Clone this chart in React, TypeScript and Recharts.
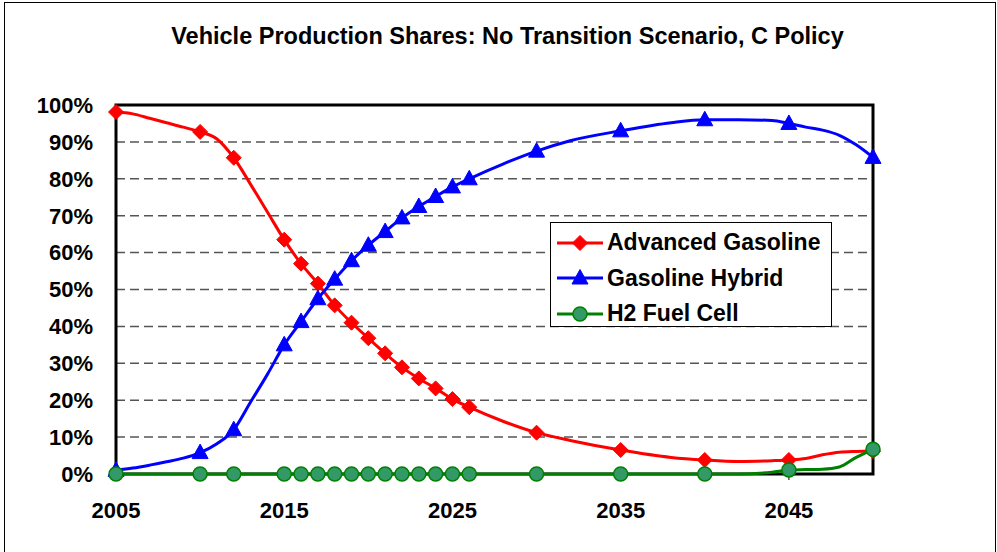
import { LineChart, Line, XAxis, YAxis, CartesianGrid, Legend, ReferenceArea } from 'recharts';

const FONT = '"Liberation Sans", Arial, sans-serif';

// years with readable points on the curves
const years = [
  2005, 2006, 2007, 2008, 2009, 2010, 2011, 2012, 2013, 2014, 2015, 2016, 2017, 2018, 2019, 2020, 2021, 2022,
  2023, 2024, 2025, 2026, 2028, 2030, 2032, 2035, 2038, 2040, 2042, 2044, 2045, 2046, 2047, 2048, 2049, 2050,
];

// years that carry a marker
const markerYears = [
  2005, 2010, 2012, 2015, 2016, 2017, 2018, 2019, 2020, 2021, 2022, 2023, 2024, 2025, 2026, 2030, 2035, 2040,
  2045, 2050,
];

const advancedGasoline = [
  98.1, 97.6, 96.4, 95.2, 94.0, 92.7, 90.8, 85.7, 78.5, 71.0, 63.5, 57.0, 51.6, 45.7, 41.0, 36.8, 32.7, 28.9,
  25.9, 23.2, 20.3, 18.1, 14.3, 11.2, 9.1, 6.5, 4.5, 3.8, 3.4, 3.6, 3.8, 4.2, 5.2, 5.9, 6.1, 6.2,
];

const gasolineHybrid = [
  1.0, 1.6, 2.4, 3.3, 4.3, 5.8, 8.2, 12.0, 19.5, 27.0, 35.0, 41.3, 47.5, 52.8, 57.8, 62.0, 65.7, 69.4, 72.5,
  75.2, 77.8, 80.0, 84.0, 87.5, 90.3, 93.0, 95.2, 96.0, 96.0, 95.8, 95.0, 94.0, 93.2, 91.8, 89.2, 85.8,
];

const h2FuelCell = [
  0, 0, 0, 0, 0, 0, 0, 0, 0, 0, 0, 0, 0, 0, 0, 0, 0, 0, 0, 0, 0, 0, 0, 0, 0, 0, 0, 0, 0, 0.5, 1.1, 1.2, 1.3,
  1.9, 4.5, 6.7,
];

const xTicks = [2005, 2015, 2025, 2035, 2045];
const yTicks = [0, 10, 20, 30, 40, 50, 60, 70, 80, 90, 100];

const seriesNames = ['Advanced Gasoline', 'Gasoline Hybrid', 'H2 Fuel Cell'];

const chartData = years.map((year, i) => ({
  year,
  advanced: advancedGasoline[i],
  hybrid: gasolineHybrid[i],
  fuelCell: h2FuelCell[i],
}));

const Diamond = ({ cx, cy }: { cx: number; cy: number }) => (
  <polygon
    points={`${cx},${cy - 7.5} ${cx + 7.5},${cy} ${cx},${cy + 7.5} ${cx - 7.5},${cy}`}
    fill="#FF0000"
    stroke="#FF0000"
    strokeWidth={1}
  />
);

const Triangle = ({ cx, cy }: { cx: number; cy: number }) => (
  <polygon
    points={`${cx},${cy - 8.5} ${cx + 8},${cy + 6} ${cx - 8},${cy + 6}`}
    fill="#0000FF"
    stroke="#0000FF"
    strokeWidth={1}
  />
);

const Circle = ({ cx, cy }: { cx: number; cy: number }) => (
  <circle cx={cx} cy={cy} r={7} fill="#339966" stroke="#008000" strokeWidth={1.5} />
);

const makeDot = (Shape: any, prefix: string) => (props: any) => {
  const { cx, cy, payload, index } = props;
  if (!markerYears.includes(payload.year)) return <g key={`${prefix}-${index}`} />;
  return (
    <g key={`${prefix}-${index}`}>
      <Shape cx={cx} cy={cy} />
    </g>
  );
};

const legendItems = [
  { name: seriesNames[0], color: '#FF0000', Shape: Diamond },
  { name: seriesNames[1], color: '#0000FF', Shape: Triangle },
  { name: seriesNames[2], color: '#008000', Shape: Circle },
];

const renderLegend = () => (
  <div
    style={{
      width: 282,
      height: 105,
      boxSizing: 'border-box',
      border: '1.5px solid #000',
      background: '#fff',
      paddingTop: 2,
    }}
  >
    {legendItems.map((item) => (
      <div key={item.name} style={{ display: 'flex', alignItems: 'center', height: 35.5 }}>
        <svg width={56} height={24} style={{ flex: 'none' }}>
          <line x1={6} y1={12} x2={52} y2={12} stroke={item.color} strokeWidth={3} />
          <item.Shape cx={29} cy={12} />
        </svg>
        <span style={{ fontFamily: FONT, fontWeight: 'bold', fontSize: 23, color: '#000' }}>{item.name}</span>
      </div>
    ))}
  </div>
);

const tickStyle = { fontFamily: FONT, fontWeight: 'bold', fontSize: 22, fill: '#000' };

export default function App() {
  return (
    <div style={{ position: 'absolute', left: 0, top: 0, width: 997, height: 552, background: '#fff', overflow: 'hidden' }}>
      <div
        style={{
          position: 'absolute',
          left: 4,
          top: 2,
          width: 990,
          height: 600,
          border: '1px solid #000',
        }}
      />
      <div
        style={{
          position: 'absolute',
          left: 0,
          top: 23,
          width: 1015,
          textAlign: 'center',
          fontFamily: FONT,
          fontWeight: 'bold',
          fontSize: 23.5,
          color: '#000',
        }}
      >
        Vehicle Production Shares: No Transition Scenario, C Policy
      </div>
      <div style={{ position: 'absolute', left: 0, top: 0 }}>
        <LineChart width={997} height={552} data={chartData} margin={{ top: 105, right: 124, bottom: 18, left: 16 }}>
          <CartesianGrid horizontal vertical={false} stroke="#555" strokeWidth={1.5} strokeDasharray="9 5" />
          <XAxis
            dataKey="year"
            type="number"
            domain={[2005, 2050]}
            ticks={xTicks}
            height={60}
            axisLine={false}
            tickSize={6}
            tickMargin={22}
            tickLine={{ stroke: '#000', strokeWidth: 1 }}
            tick={tickStyle}
          />
          <YAxis
            type="number"
            domain={[0, 100]}
            ticks={yTicks}
            width={100}
            axisLine={false}
            tickLine={false}
            tickSize={0}
            tickMargin={23}
            tick={tickStyle}
            tickFormatter={(v: number) => `${v}%`}
          />
          <ReferenceArea x1={2005} x2={2050} y1={0} y2={100} fill="none" stroke="#000" strokeWidth={3} />
          <Line
            dataKey="advanced"
            name={seriesNames[0]}
            type="monotone"
            stroke="#FF0000"
            strokeWidth={3}
            dot={makeDot(Diamond, 'adv')}
            activeDot={false}
            isAnimationActive={false}
          />
          <Line
            dataKey="hybrid"
            name={seriesNames[1]}
            type="monotone"
            stroke="#0000FF"
            strokeWidth={3}
            dot={makeDot(Triangle, 'hyb')}
            activeDot={false}
            isAnimationActive={false}
          />
          <Line
            dataKey="fuelCell"
            name={seriesNames[2]}
            type="monotone"
            stroke="#008000"
            strokeWidth={3}
            dot={makeDot(Circle, 'fc')}
            activeDot={false}
            isAnimationActive={false}
          />
          <Legend
            layout="vertical"
            align="center"
            verticalAlign="middle"
            content={renderLegend}
            wrapperStyle={{ left: 550, top: 222, width: 282 }}
          />
        </LineChart>
      </div>
    </div>
  );
}
